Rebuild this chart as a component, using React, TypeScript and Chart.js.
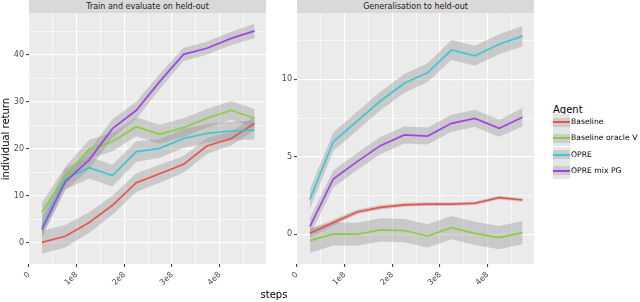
import React, { useEffect, useRef } from "react";
import { Chart, registerables } from "chart.js";

Chart.register(...registerables);

const FONT = "'DejaVu Sans', sans-serif";

// ---- data ----
const steps = [2.7e7, 7.6e7, 1.26e8, 1.75e8, 2.25e8, 2.74e8, 3.24e8, 3.73e8, 4.24e8, 4.73e8];
const agents = ["Baseline", "Baseline oracle V", "OPRE", "OPRE mix PG"];
const agentColors = ["#E8534A", "#86D13B", "#3CC8D4", "#9F45E6"];

const xTickValues = [0, 1e8, 2e8, 3e8, 4e8];
const xGridValues = [0, 5e7, 1e8, 1.5e8, 2e8, 2.5e8, 3e8, 3.5e8, 4e8, 4.5e8];

// Panel 1: Train and evaluate on held-out
const trainBaseline = [0.1, 1.4, 4.3, 8.0, 12.8, 14.7, 16.7, 20.6, 22.2, 25.4];
const trainOracle = [6.5, 14.2, 19.9, 21.5, 24.7, 23.1, 24.5, 26.5, 28.2, 26.5];
const trainOpre = [3.4, 13.6, 16.0, 14.3, 19.4, 20.1, 22.2, 23.3, 23.8, 24.0];
const trainMix = [2.8, 13.0, 17.6, 24.3, 28.2, 34.3, 40.1, 41.4, 43.5, 45.1];

const trainBaselineErr = [2.4, 2.4, 2.2, 2.0, 2.0, 1.9, 1.8, 1.7, 1.5, 1.5];
const trainOracleErr = [2.0, 2.0, 2.0, 2.0, 2.0, 2.0, 2.0, 2.0, 2.0, 2.0];
const trainOpreErr = [2.0, 2.2, 2.3, 2.3, 2.2, 2.0, 2.0, 2.0, 2.0, 2.0];
const trainMixErr = [1.6, 1.8, 2.0, 2.0, 1.8, 1.6, 1.4, 1.4, 1.4, 1.5];

// Panel 2: Generalisation to held-out
const genBaseline = [0.06, 0.75, 1.44, 1.74, 1.89, 1.94, 1.94, 2.0, 2.36, 2.21];
const genOracle = [-0.41, 0.02, 0.0, 0.28, 0.24, -0.11, 0.43, 0.06, -0.22, 0.1];
const genOpre = [2.26, 5.97, 7.3, 8.6, 9.74, 10.43, 11.89, 11.52, 12.26, 12.79];
const genMix = [0.49, 3.57, 4.69, 5.72, 6.41, 6.34, 7.16, 7.48, 6.84, 7.55];

const genBaselineErr = [0.25, 0.2, 0.15, 0.15, 0.12, 0.12, 0.12, 0.12, 0.12, 0.12];
const genOracleErr = [0.8, 0.75, 0.75, 0.75, 0.75, 0.75, 0.75, 0.75, 0.75, 0.75];
const genOpreErr = [0.65, 0.6, 0.6, 0.6, 0.6, 0.6, 0.65, 0.65, 0.65, 0.65];
const genMixErr = [0.55, 0.55, 0.55, 0.55, 0.55, 0.55, 0.55, 0.55, 0.55, 0.6];

const RIBBON = "rgba(150,150,150,0.4)";

const panelBg = {
  id: "panelBg",
  beforeDraw(chart: any) {
    const { ctx, chartArea: a } = chart;
    ctx.save();
    ctx.fillStyle = "#EBEBEB";
    ctx.fillRect(a.left, a.top, a.right - a.left, a.bottom - a.top);
    ctx.restore();
  },
};

const isMajorX = (v: number) => xTickValues.some((t) => Math.abs(t - v) < 1);

function Panel({
  series,
  errors,
  yMin,
  yMax,
  yStep,
  yMajorStep,
  left,
}: {
  series: number[][];
  errors: number[][];
  yMin: number;
  yMax: number;
  yStep: number;
  yMajorStep: number;
  left: number;
}) {
  const ref = useRef<HTMLCanvasElement>(null);
  useEffect(() => {
    if (!ref.current) return;
    const isMajorY = (v: number) => Math.abs(v / yMajorStep - Math.round(v / yMajorStep)) < 1e-6;
    const datasets: any[] = [];
    series.forEach((s, i) => {
      datasets.push({
        data: steps.map((x, k) => ({ x, y: s[k] + errors[i][k] })),
        borderWidth: 0,
        pointRadius: 0,
        fill: false,
        order: 10,
      });
      datasets.push({
        data: steps.map((x, k) => ({ x, y: s[k] - errors[i][k] })),
        borderWidth: 0,
        pointRadius: 0,
        fill: "-1",
        backgroundColor: RIBBON,
        order: 10,
      });
    });
    series.forEach((s, i) => {
      datasets.push({
        label: agents[i],
        data: steps.map((x, k) => ({ x, y: s[k] })),
        borderColor: agentColors[i],
        borderWidth: 1.7,
        pointRadius: 0,
        fill: false,
        tension: 0,
        order: -i,
      });
    });
    const chart = new Chart(ref.current, {
      type: "line",
      data: { datasets },
      plugins: [panelBg],
      options: {
        responsive: false,
        animation: false,
        events: [],
        layout: { padding: { left: 0, right: 4, top: 13, bottom: 0 } },
        plugins: {
          legend: { display: false },
          tooltip: { enabled: false },
          filler: { drawTime: "beforeDatasetsDraw", propagate: false },
        } as any,
        scales: {
          x: {
            type: "linear",
            min: 0,
            max: 4.97e8,
            border: { display: false },
            grid: {
              color: "#FFFFFF",
              lineWidth: (c: any) => (c.tick && isMajorX(c.tick.value) ? 1.2 : 0.6),
              tickLength: 3,
              tickColor: (c: any) => (c.tick && isMajorX(c.tick.value) ? "#333333" : "rgba(0,0,0,0)"),
              tickWidth: 1,
            },
            afterBuildTicks: (s: any) => {
              s.ticks = xGridValues.map((v) => ({ value: v }));
            },
            ticks: {
              autoSkip: false,
              minRotation: 45,
              maxRotation: 45,
              padding: 3,
              color: "#4D4D4D",
              font: { family: FONT, size: 8 },
              callback: (v: any) => {
                const n = Number(v);
                if (!isMajorX(n)) return "";
                return n === 0 ? "0" : `${Math.round(n / 1e8)}e8`;
              },
            },
            afterFit: (s: any) => {
              s.height = 38;
            },
          } as any,
          y: {
            type: "linear",
            min: yMin,
            max: yMax,
            border: { display: false },
            grid: {
              color: "#FFFFFF",
              lineWidth: (c: any) => (c.tick && isMajorY(c.tick.value) ? 1.2 : 0.6),
              tickLength: 3,
              tickColor: (c: any) => (c.tick && isMajorY(c.tick.value) ? "#333333" : "rgba(0,0,0,0)"),
              tickWidth: 1,
            },
            ticks: {
              stepSize: yStep,
              includeBounds: false,
              autoSkip: false,
              padding: 2,
              color: "#4D4D4D",
              font: { family: FONT, size: 8 },
              callback: (v: any) => {
                const n = Number(v);
                return isMajorY(n) ? String(Math.round(n)) : "";
              },
            },
            afterFit: (s: any) => {
              s.width = 29;
            },
          } as any,
        },
      },
    });
    return () => chart.destroy();
  }, []);
  return (
    <canvas
      ref={ref}
      width={270}
      height={302}
      style={{ position: "absolute", left, top: 0, width: 270, height: 302 }}
    />
  );
}

const stripStyle = (left: number): React.CSSProperties => ({
  position: "absolute",
  left,
  top: 0,
  width: 237,
  height: 13,
  lineHeight: "13px",
  background: "#D9D9D9",
  color: "#1A1A1A",
  fontSize: 8,
  textAlign: "center",
  whiteSpace: "nowrap",
});

export default function App() {
  return (
    <div
      style={{
        position: "absolute",
        left: 0,
        top: 0,
        width: 640,
        height: 302,
        background: "#FFFFFF",
        overflow: "hidden",
        fontFamily: FONT,
      }}
    >
      <Panel
        series={[trainBaseline, trainOracle, trainOpre, trainMix]}
        errors={[trainBaselineErr, trainOracleErr, trainOpreErr, trainMixErr]}
        yMin={-4.5}
        yMax={48.9}
        yStep={5}
        yMajorStep={10}
        left={0}
      />
      <Panel
        series={[genBaseline, genOracle, genOpre, genMix]}
        errors={[genBaselineErr, genOracleErr, genOpreErr, genMixErr]}
        yMin={-1.92}
        yMax={14.28}
        yStep={2.5}
        yMajorStep={5}
        left={268}
      />
      <div style={stripStyle(29)}>Train and evaluate on held-out</div>
      <div style={stripStyle(297)}>Generalisation to held-out</div>
      <div
        style={{
          position: "absolute",
          left: 6 - 100,
          top: 138.5 - 6,
          width: 200,
          height: 12,
          lineHeight: "12px",
          fontSize: 10,
          textAlign: "center",
          color: "#000",
          transform: "rotate(-90deg)",
          whiteSpace: "nowrap",
        }}
      >
        individual return
      </div>
      <div
        style={{
          position: "absolute",
          left: 274 - 50,
          top: 289,
          width: 100,
          height: 12,
          lineHeight: "12px",
          fontSize: 10,
          textAlign: "center",
          color: "#000",
          whiteSpace: "nowrap",
        }}
      >
        steps
      </div>
      <div
        style={{
          position: "absolute",
          left: 553,
          top: 104,
          lineHeight: "12px",
          fontSize: 10,
          color: "#000",
          whiteSpace: "nowrap",
        }}
      >
        Agent
      </div>
      {agents.map((a, i) => (
        <div key={a}>
          <div
            style={{
              position: "absolute",
              left: 553,
              top: 114 + i * 16.3,
              width: 17,
              height: 16,
              background: "#E6E6E6",
            }}
          >
            <div style={{ position: "absolute", left: 0, top: 3.5, width: 17, height: 9, background: "#CCCCCC" }} />
            <div
              style={{ position: "absolute", left: 0, top: 7, width: 17, height: 2, background: agentColors[i] }}
            />
          </div>
          <div
            style={{
              position: "absolute",
              left: 571,
              top: 114 + i * 16.3 + 2,
              lineHeight: "12px",
              fontSize: 7.7,
              color: "#000",
              whiteSpace: "nowrap",
            }}
          >
            {a}
          </div>
        </div>
      ))}
    </div>
  );
}
